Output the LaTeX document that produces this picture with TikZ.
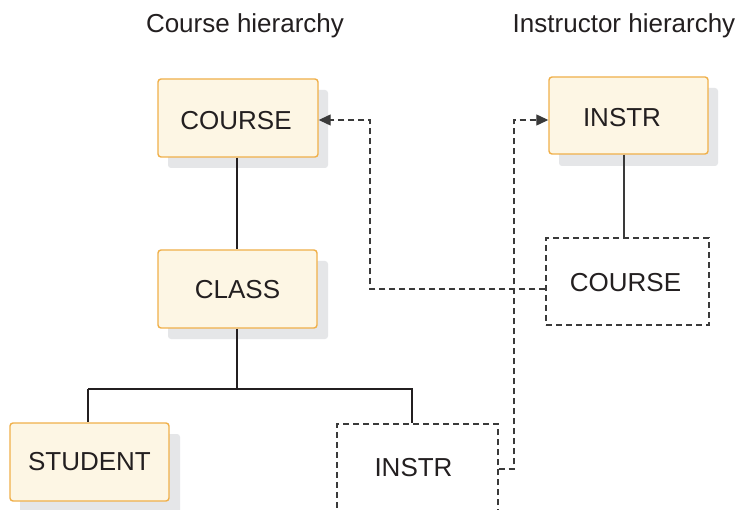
\documentclass[tikz,border=0pt]{standalone}
\usepackage{fontspec}
\setmainfont{Liberation Sans}
\usetikzlibrary{arrows.meta}
\definecolor{boxfill}{HTML}{FDF6E4}
\definecolor{boxline}{HTML}{F0B04A}
\definecolor{shadowc}{HTML}{E5E6E8}
\definecolor{inkc}{HTML}{231F20}
\definecolor{dashc}{HTML}{3A3A3A}
\begin{document}
\begin{tikzpicture}[x=1pt,y=-1pt,
  every node/.style={font=\fontsize{26}{30}\selectfont, text=inkc, inner sep=0pt},
  solidbox/.style={draw=boxline, fill=boxfill, line width=1.4pt, rounded corners=3pt},
  shadowbox/.style={fill=shadowc, rounded corners=3pt},
  dashbox/.style={draw=dashc, line width=1.2pt, dash pattern=on 6pt off 4pt},
  conn/.style={draw=inkc, line width=1.3pt},
  dconn/.style={draw=dashc, line width=1.2pt, dash pattern=on 6pt off 4pt},
  tip/.style={-{Triangle[length=12pt,width=11pt]}}
]
\clip (0,0) rectangle (741,510);
\fill[white] (0,0) rectangle (741,510);

% titles
\node[anchor=base] (t1) at (245,33) {Course hierarchy};
\node[anchor=base] (t2) at (624,33) {Instructor hierarchy};

% shadows
\fill[shadowbox] (168,90) rectangle (328,168);
\fill[shadowbox] (168,261) rectangle (328,339);
\fill[shadowbox] (20,434) rectangle (180,520);
\fill[shadowbox] (559,88) rectangle (718,166);

% solid boxes
\node[solidbox, minimum width=160pt, minimum height=78pt] (course) at (238,118) {};
\node[solidbox, minimum width=159pt, minimum height=78pt] (class) at (237.5,289) {};
\node[solidbox, minimum width=159pt, minimum height=78pt] (student) at (89.5,462) {};
\node[solidbox, minimum width=159pt, minimum height=77pt] (instr2) at (628.5,115.5) {};

% dashed boxes
\node[dashbox, minimum width=163pt, minimum height=87pt] (course2) at (627.5,281.5) {};
\node[dashbox, minimum width=161pt, minimum height=110pt] (instr1) at (417.5,479) {};

% texts
\node (tcourse) at (236,120.5) {COURSE};
\node (tclass) at (237.5,289.5) {CLASS};
\node (tstudent) at (89.5,462) {STUDENT};
\node (tinstr2) at (622,118) {INSTR};
\node (tcourse2) at (625.5,283) {COURSE};
\node (tinstr1) at (413.5,467.5) {INSTR};

% solid connectors
\coordinate (j) at (237,389);
\draw[conn] (course.south -| j) -- (class.north -| j);
\draw[conn] (class.south -| j) -- (j);
\draw[conn] (88,389) -| (student.north -| 88,0) ;
\draw[conn] (88,389) -- (412,389) -- (instr1.north -| 412,0);
\draw[draw=dashc, line width=1.3pt] (instr2.south -| 624,0) -- (course2.north -| 624,0);

% dashed connectors
\coordinate (a1) at (370,289);
\coordinate (a2) at (370,120);
\draw[dconn, tip] (course2.west |- a1) -- (a1) -- (a2) -- (course.east |- a2);
\coordinate (b1) at (514,469);
\coordinate (b2) at (514,120);
\draw[dconn, tip] (instr1.east |- b1) -- (b1) -- (b2) -- (instr2.west |- b2);
\end{tikzpicture}
\end{document}
